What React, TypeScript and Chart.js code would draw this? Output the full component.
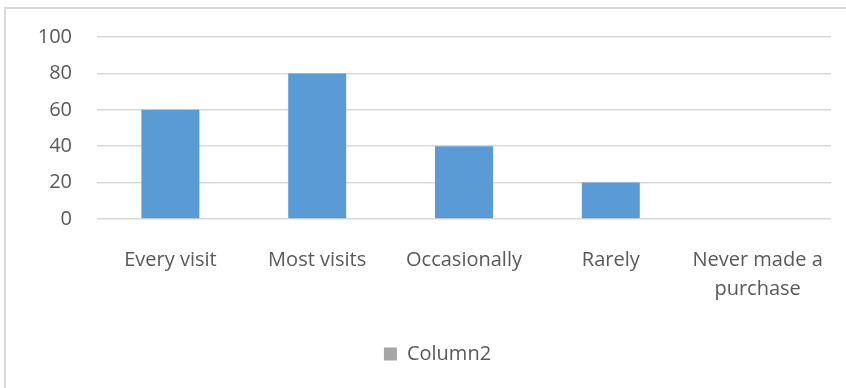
import React, { useEffect, useRef } from "react";
import { Chart, registerables } from "chart.js";

Chart.register(...registerables);

const categories: string[][] = [
  ["Every visit"],
  ["Most visits"],
  ["Occasionally"],
  ["Rarely"],
  ["Never made a", "purchase"],
];
const seriesName = "Column2";
const values = [60, 80, 40, 20, 0];
const yMin = 0;
const yMax = 100;
const yStep = 20;

const FONT = "'Open Sans', Lato, sans-serif";
const TEXT = "#595959";
const GRID = "#d9d9d9";
const BAR = "#5B9BD5";
const LEGEND_BOX = "#A5A5A5";

const legendShift = {
  id: "legendShift",
  afterLayout(chart: any) {
    const lg = chart.legend;
    if (lg) {
      lg.left += 18;
      lg.right += 18;
    }
  },
};

export default function App() {
  const ref = useRef<HTMLCanvasElement | null>(null);

  useEffect(() => {
    if (!ref.current) return;
    const chart = new Chart(ref.current, {
      type: "bar",
      data: {
        labels: categories,
        datasets: [
          {
            label: seriesName,
            data: values,
            backgroundColor: BAR,
            borderWidth: 0,
            barPercentage: 0.395,
            categoryPercentage: 1,
          },
        ],
      },
      options: {
        responsive: false,
        animation: false,
        layout: { padding: { left: 8, right: 15, top: 36, bottom: 14 } },
        scales: {
          y: {
            min: yMin,
            max: yMax,
            ticks: {
              stepSize: yStep,
              color: TEXT,
              font: { family: FONT, size: 20 },
              padding: 25,
            },
            grid: { color: GRID, lineWidth: 1.5, drawTicks: false },
            border: { display: false },
            afterFit: (s: any) => {
              s.width = 89;
            },
          },
          x: {
            ticks: {
              color: TEXT,
              font: { family: FONT, size: 20, lineHeight: 1.45 },
              padding: 27,
              maxRotation: 0,
              autoSkip: false,
            },
            grid: { display: false, drawTicks: false },
            border: { display: false },
            afterFit: (s: any) => {
              s.height = 115;
              s.paddingLeft = 0;
              s.paddingRight = 0;
            },
          },
        },
        plugins: {
          tooltip: { enabled: false },
          legend: {
            position: "bottom",
            labels: {
              color: TEXT,
              font: { family: FONT, size: 20 },
              boxWidth: 13,
              boxHeight: 13,
              padding: 10,
              generateLabels: () => [
                {
                  text: seriesName,
                  fillStyle: LEGEND_BOX,
                  strokeStyle: LEGEND_BOX,
                  lineWidth: 0,
                  fontColor: TEXT,
                  datasetIndex: 0,
                  hidden: false,
                } as any,
              ],
            },
          },
        },
      },
      plugins: [legendShift],
    });
    return () => chart.destroy();
  }, []);

  return (
    <div style={{ position: "fixed", left: 0, top: 0, width: 846, height: 388, overflow: "hidden", background: "#fff" }}>
      <div
        style={{
          position: "absolute",
          left: 4,
          top: 7,
          width: 900,
          height: 500,
          border: `2px solid ${GRID}`,
          boxSizing: "border-box",
        }}
      />
      <canvas ref={ref} width={846} height={388} style={{ position: "absolute", left: 0, top: 0 }} />
    </div>
  );
}
